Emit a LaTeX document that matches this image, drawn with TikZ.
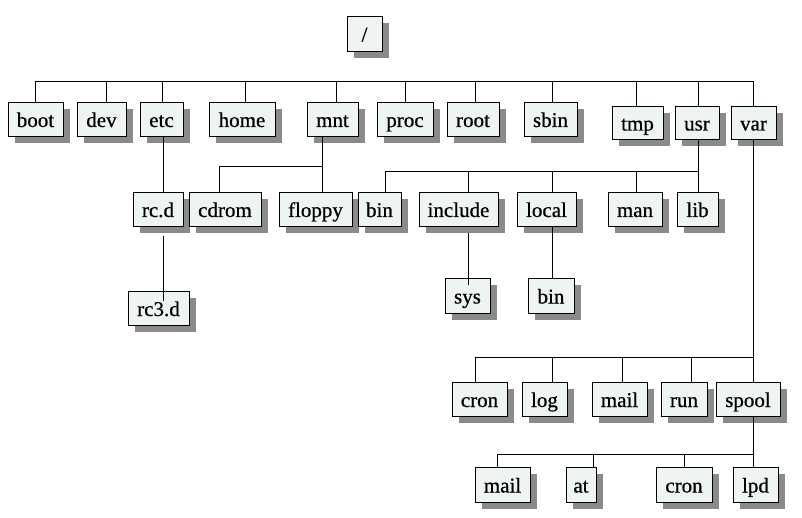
\documentclass[tikz,border=0pt]{standalone}
\usepackage{fontspec}
\setmainfont{Liberation Serif}
\newfontfamily\boxfont{Liberation Serif}[FakeBold=0.6]
\usetikzlibrary{shadows}
\definecolor{boxfill}{HTML}{EEF3F3}
\definecolor{shadowgray}{HTML}{8A8A8A}
\tikzset{
  box/.style={draw=black, fill=boxfill, line width=0.9pt, inner sep=0pt,
    text height=16pt, text depth=0pt, font=\boxfont\fontsize{21}{21}\selectfont,
    drop shadow={shadow xshift=7pt, shadow yshift=-7pt, fill=shadowgray, opacity=1}},
  conn/.style={draw=black, line width=0.9pt}
}
\newcommand\bx[6]{\node[box, minimum width={(#4-#2)*1pt}, minimum height={(#5-#3)*1pt}] (#1) at ({(#2+#4)/2},{(#3+#5)/2}) {#6};}
\begin{document}
\begin{tikzpicture}[x=1pt,y=-1pt]
\useasboundingbox (0,0) rectangle (802,518);
% boxes
\bx{rootdir}{347}{16}{382}{51}{/}
\bx{boot}{8}{102}{63}{136}{boot}
\bx{dev}{77}{102}{126}{136}{dev}
\bx{etc}{140}{102}{183}{136}{etc}
\bx{home}{209}{102}{275}{136}{home}
\bx{mnt}{307}{102}{358}{136}{mnt}
\bx{proc}{377}{102}{433}{136}{proc}
\bx{root}{447}{102}{499}{136}{root}
\bx{sbin}{524}{102}{577}{136}{sbin}
\bx{tmp}{612}{106}{663}{139}{tmp}
\bx{usr}{675}{106}{719}{139}{usr}
\bx{var}{731}{106}{776}{139}{var}
\bx{rcd}{133}{192}{183}{226}{rc.d}
\bx{cdrom}{189}{192}{261}{226}{cdrom}
\bx{floppy}{279}{192}{352}{226}{floppy}
\bx{ubin}{358}{192}{401}{226}{bin}
\bx{include}{419}{192}{498}{226}{include}
\bx{local}{517}{192}{576}{226}{local}
\bx{man}{608}{192}{662}{226}{man}
\bx{lib}{677}{192}{718}{226}{lib}
\bx{rcthree}{128}{291}{189}{325}{rc3.d}
\bx{sys}{445}{278}{490}{313}{sys}
\bx{lbin}{528}{278}{574}{313}{bin}
\bx{cron}{452}{382}{507}{416}{cron}
\bx{log}{522}{382}{567}{416}{log}
\bx{mail}{592}{382}{647}{416}{mail}
\bx{run}{661}{382}{707}{416}{run}
\bx{spool}{716}{382}{780}{416}{spool}
\bx{smail}{475}{467}{530}{502}{mail}
\bx{at}{566}{467}{596}{502}{at}
\bx{scron}{656}{467}{712}{502}{cron}
\bx{lpd}{733}{467}{778}{502}{lpd}
% bus levels
\coordinate (busA) at (0,81);
\coordinate (busM) at (0,166);
\coordinate (busU) at (0,171);
\coordinate (busV) at (0,357);
\coordinate (busS) at (0,454);
% top level
\draw[conn] (boot.north) -- (boot.north |- busA) -- ([xshift=-0.5pt]var.north |- busA) -- ([xshift=-0.5pt]var.north);
\foreach \n/\d in {dev/4.5,etc/0.5,home/3,mnt/3.5,proc/0,root/2,sbin/1.5,tmp/-1.5,usr/1}
  \draw[conn] ([xshift=\d pt]\n.north) -- ([xshift=\d pt]\n.north |- busA);
% etc
\draw[conn] ([xshift=1.5pt]etc.south) -- ([xshift=1.5pt]etc.south |- rcd.north);
\draw[conn] ([xshift=5pt,yshift=-10pt]rcd.south) -- ([xshift=5pt,yshift=-10pt]rcd.south |- rcthree.north);
% mnt
\draw[conn] ([xshift=-10.5pt]mnt.south) -- ([xshift=-10.5pt]mnt.south |- floppy.north);
\draw[conn] ([xshift=-6pt]cdrom.north) -- ([xshift=-6pt]cdrom.north |- busM) -- ([xshift=-10.5pt]mnt.south |- busM);
% usr
\draw[conn] ([xshift=1pt]usr.south) -- ([xshift=1pt]usr.south |- lib.north);
\draw[conn] ([xshift=5.5pt]ubin.north) -- ([xshift=5.5pt]ubin.north |- busU) -- ([xshift=1pt]usr.south |- busU);
\foreach \n/\d in {include/9.5,local/5.5,man/1}
  \draw[conn] ([xshift=\d pt]\n.north) -- ([xshift=\d pt]\n.north |- busU);
\draw[conn] ([xshift=9.5pt,yshift=-7pt]include.south) -- ([xshift=9.5pt,yshift=-7pt]include.south |- sys.north);
\draw[conn] ([xshift=5.5pt]local.south) -- ([xshift=5.5pt]local.south |- lbin.north);
% var
\draw[conn] ([xshift=-0.5pt]var.south) -- ([xshift=-0.5pt]var.south |- spool.north);
\draw[conn] ([xshift=-4.5pt]cron.north) -- ([xshift=-4.5pt]cron.north |- busV) -- ([xshift=-0.5pt]var.south |- busV);
\foreach \n/\d in {log/7.5,mail/2.5,run/7}
  \draw[conn] ([xshift=\d pt]\n.north) -- ([xshift=\d pt]\n.north |- busV);
% spool
\draw[conn] ([xshift=5pt]spool.south) -- ([xshift=5pt]spool.south |- busS);
\draw[conn] ([xshift=-5.5pt]smail.north) -- ([xshift=-5.5pt]smail.north |- busS) -- ([xshift=5pt]spool.south |- busS);
\foreach \n/\d in {at/12,scron/0,lpd/-2.5}
  \draw[conn] ([xshift=\d pt]\n.north) -- ([xshift=\d pt]\n.north |- busS);
\end{tikzpicture}
\end{document}
